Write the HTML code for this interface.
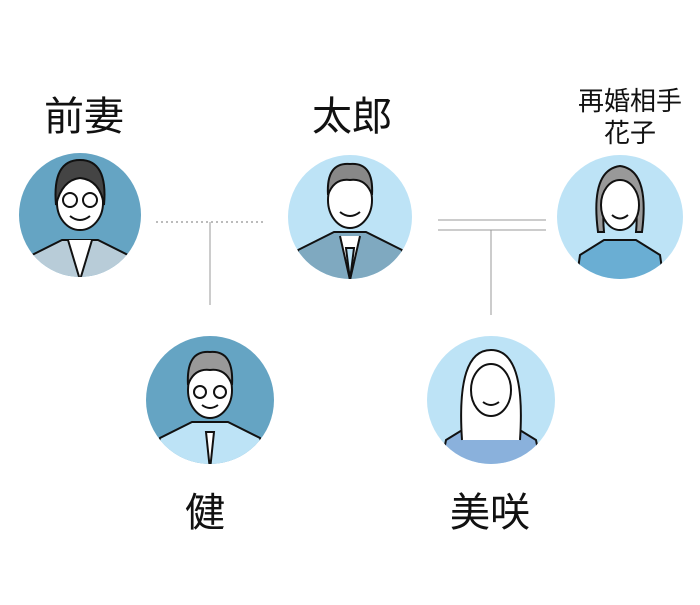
<!DOCTYPE html>
<html><head><meta charset="utf-8"><style>
body{margin:0;background:#fff;width:700px;height:600px;overflow:hidden}
svg text{font-family:"Liberation Sans","Noto Sans CJK JP",sans-serif;fill:#111}
</style></head><body>
<svg width="700" height="600" viewBox="0 0 700 600">
<defs>
<clipPath id="c1"><ellipse cx="80" cy="215" rx="61" ry="62"/></clipPath>
<clipPath id="c2"><ellipse cx="350" cy="217" rx="62" ry="62"/></clipPath>
<clipPath id="c3"><ellipse cx="620" cy="217" rx="63" ry="62"/></clipPath>
<clipPath id="c4"><ellipse cx="210" cy="400" rx="64" ry="64"/></clipPath>
<clipPath id="c5"><ellipse cx="491" cy="400" rx="64" ry="64"/></clipPath>
</defs>
<g stroke="#999" stroke-width="1" fill="none">
<line x1="156" y1="222" x2="265" y2="222" stroke-dasharray="2,3" stroke="#777"/>
<line x1="210" y1="222" x2="210" y2="305"/>
<line x1="438" y1="220" x2="546" y2="220"/>
<line x1="438" y1="230" x2="546" y2="230"/>
<line x1="491" y1="230" x2="491" y2="315"/>
</g>
<g stroke="#111" stroke-width="2">
<g clip-path="url(#c1)"><rect x="0" y="150" width="160" height="130" fill="#65a4c3" stroke="none"/>
<path d="M20 290 L30 256 L62 240 L98 240 L130 256 L140 290Z" fill="#b8ccd8"/>
<path d="M68 240 L80 280 L92 240" fill="#fff"/>
<ellipse cx="80" cy="203" rx="23" ry="27" fill="#fff"/>
<path d="M56 205 Q52 160 80 160 Q108 160 104 205 Q100 180 80 178 Q62 180 56 205Z" fill="#444"/>
<circle cx="70" cy="200" r="7" fill="none"/><circle cx="90" cy="200" r="7" fill="none"/>
<path d="M70 216 Q80 224 90 216" fill="none"/></g>
<g clip-path="url(#c2)"><rect x="280" y="150" width="140" height="140" fill="#bde3f6" stroke="none"/>
<path d="M290 290 L298 250 L334 232 L366 232 L402 250 L410 290Z" fill="#7fa9c0"/>
<path d="M340 236 L350 280 L360 236" fill="#fff"/><path d="M346 248 L350 280 L354 248Z" fill="#bde3f6"/>
<ellipse cx="350" cy="200" rx="22" ry="28" fill="#fff"/>
<path d="M328 195 Q326 162 350 164 Q374 162 372 195 Q366 178 350 180 Q334 178 328 195Z" fill="#888"/>
<path d="M340 212 Q350 220 360 212" fill="none"/></g>
<g clip-path="url(#c3)"><rect x="550" y="150" width="140" height="140" fill="#bde3f6" stroke="none"/>
<path d="M575 290 L580 255 L604 240 L636 240 L660 255 L665 290Z" fill="#6aaed3"/>
<path d="M598 232 Q590 170 620 166 Q650 170 642 232 L636 232 Q640 190 620 185 Q600 190 604 232Z" fill="#999"/>
<ellipse cx="620" cy="205" rx="19" ry="25" fill="#fff"/>
<path d="M612 215 Q620 222 628 215" fill="none"/></g>
<g clip-path="url(#c4)"><rect x="140" y="330" width="140" height="140" fill="#65a4c3" stroke="none"/>
<path d="M150 470 L160 438 L192 422 L228 422 L260 438 L270 470Z" fill="#bde3f6"/>
<path d="M206 432 L210 470 L214 432Z" fill="#fff"/>
<ellipse cx="210" cy="390" rx="22" ry="28" fill="#fff"/>
<path d="M188 385 Q186 350 210 352 Q234 350 232 385 Q226 368 210 370 Q194 368 188 385Z" fill="#999"/>
<circle cx="200" cy="392" r="6" fill="none"/><circle cx="220" cy="392" r="6" fill="none"/>
<path d="M202 405 Q210 411 218 405" fill="none"/></g>
<g clip-path="url(#c5)"><rect x="420" y="330" width="140" height="140" fill="#bde3f6" stroke="none"/>
<path d="M440 470 L446 440 L472 424 L510 424 L536 440 L542 470Z" fill="#8ab1dc"/>
<path d="M462 440 Q456 350 491 350 Q526 350 520 440" fill="#fff"/>
<ellipse cx="491" cy="390" rx="20" ry="26" fill="#fff"/>
<path d="M483 402 Q491 408 499 402" fill="none"/></g>
</g>
<text x="84" y="130" font-size="40" text-anchor="middle">前妻</text>
<text x="352" y="130" font-size="40" text-anchor="middle">太郎</text>
<text x="630" y="110" font-size="26" text-anchor="middle">再婚相手</text>
<text x="630" y="142" font-size="26" text-anchor="middle">花子</text>
<text x="205" y="526" font-size="40" text-anchor="middle">健</text>
<text x="490" y="526" font-size="40" text-anchor="middle">美咲</text>
</svg>
</body></html>
